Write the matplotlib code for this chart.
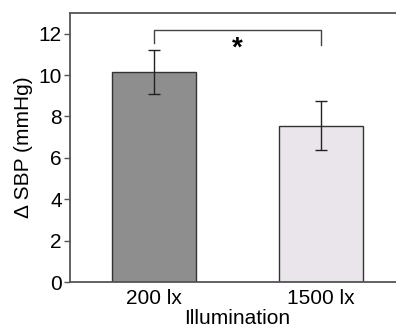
import numpy as np
import matplotlib
matplotlib.use("Agg")
import matplotlib.pyplot as plt

plt.rcParams['font.family'] = ['Liberation Sans', 'DejaVu Sans']

# data
groups = ['200 lx', '1500 lx']
means = [10.15, 7.56]
errs = [1.05, 1.18]
colors = ['#8e8e8e', '#e9e5ea']
bracket_y = 12.2
bracket_legs = [11.55, 11.45]

fig = plt.figure(figsize=(3.96, 3.27), dpi=100)
ax = fig.add_axes([70 / 396, 1 - 282 / 327, 335 / 396, 269 / 327])

x = np.arange(len(groups))
ax.bar(x, means, width=0.5, color=colors, edgecolor='#333333', linewidth=1.0, zorder=2)
ax.errorbar(x, means, yerr=errs, fmt='none', ecolor='#222222', elinewidth=1.0,
            capsize=4, capthick=1.0, zorder=3)

# significance bracket
ax.plot([x[0], x[0], x[1], x[1]],
        [bracket_legs[0], bracket_y, bracket_y, bracket_legs[1]],
        color='#444444', lw=1.0, clip_on=False)
ax.text((x[0] + x[1]) / 2, 11.3, '*', ha='center', va='center', fontsize=20,
        fontweight='bold')

ax.set_xlim(-0.5, 1.5)
ax.set_ylim(0, 13)
ax.set_yticks([0, 2, 4, 6, 8, 10, 12])
ax.set_xticks(x)
ax.set_xticklabels(groups)
ax.tick_params(axis='y', labelsize=15, length=4, width=1.0, color='#555555', pad=2)
ax.tick_params(axis='x', labelsize=15, length=0, pad=5)
for s in ax.spines.values():
    s.set_color('#555555')
    s.set_linewidth(1.3)

ax.set_ylabel('\u0394 SBP (mmHg)', fontsize=15, labelpad=4)
ax.set_xlabel('Illumination', fontsize=15, labelpad=1)

fig.savefig('out.png', dpi=100)
